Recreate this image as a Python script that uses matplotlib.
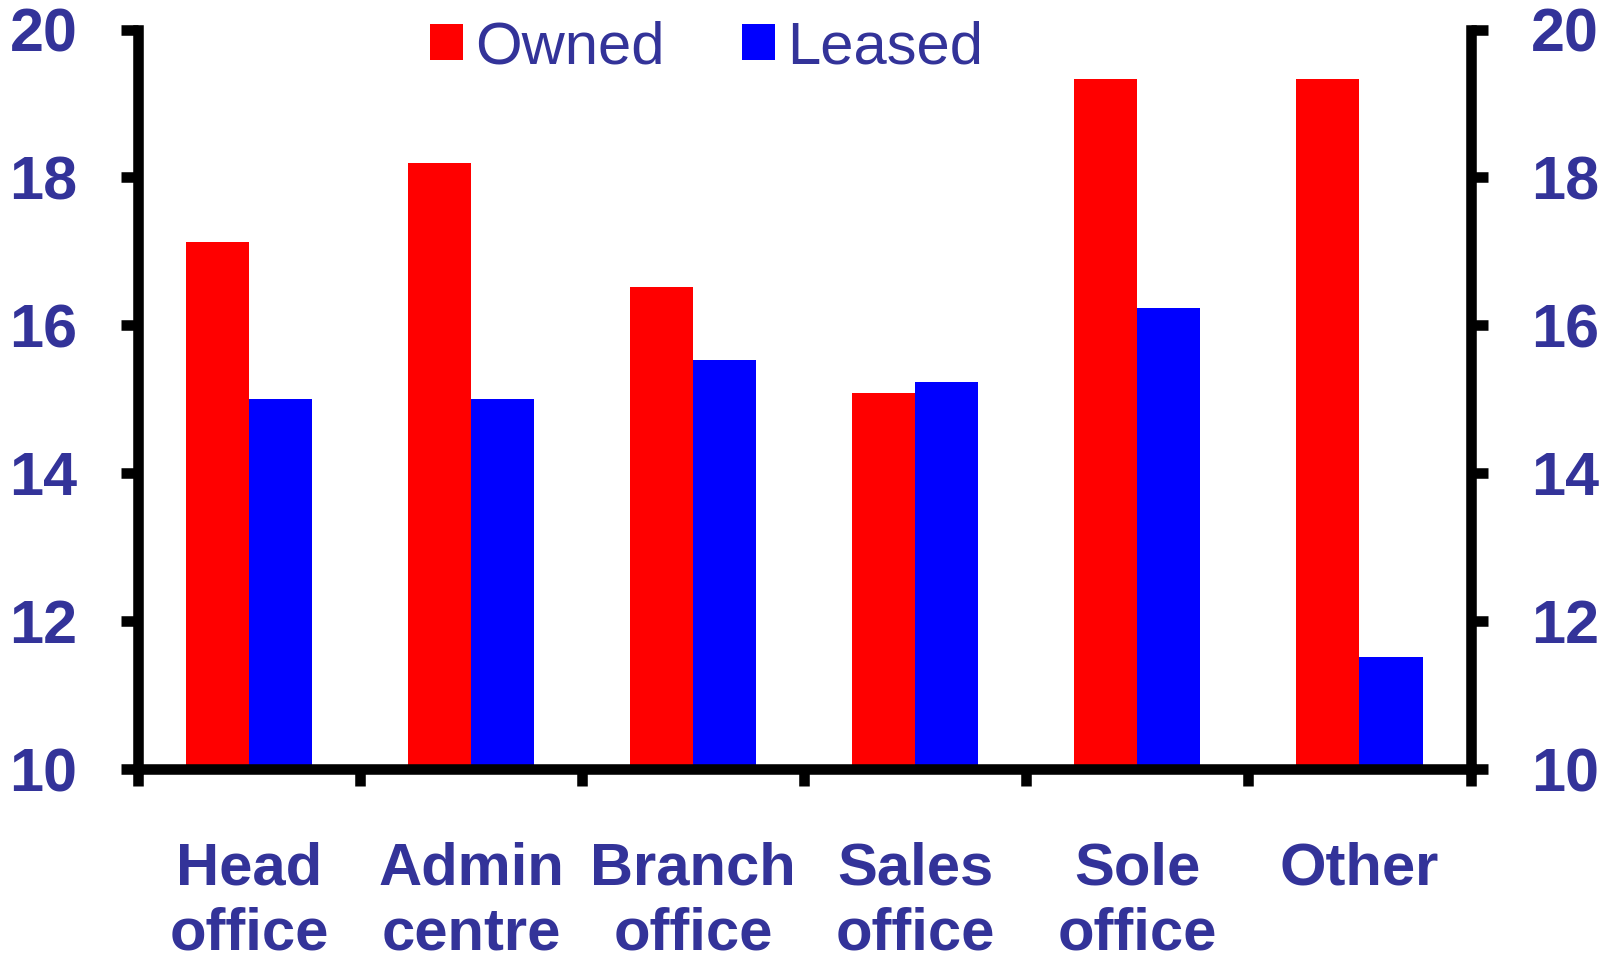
import matplotlib
matplotlib.use("Agg")
import matplotlib.pyplot as plt
from matplotlib.patches import Patch
import numpy as np

categories = ["Head\noffice", "Admin\ncentre", "Branch\noffice", "Sales\noffice", "Sole\noffice", "Other"]
owned = [17.13, 18.19, 16.52, 15.08, 19.33, 19.33]
leased = [15.01, 15.01, 15.53, 15.23, 16.23, 11.52]
y_ticks = [10, 12, 14, 16, 18, 20]
series_names = ["Owned", "Leased"]

TEXT = "#333399"
RED = "#FF0000"
BLUE = "#0000FF"

plt.rcParams['font.family'] = ['Liberation Sans', 'DejaVu Sans']

W, H = 1604, 959
fig = plt.figure(figsize=(W / 100, H / 100), dpi=100)
ax = fig.add_axes([138 / W, 1 - 769 / H, (1470.5 - 138) / W, (769 - 29.5) / H])

n = len(categories)
centers = np.arange(n) + 0.5
bw = 0.284
ax.bar(centers - bw / 2, np.array(owned) - 10, bw, bottom=10, color=RED, label=series_names[0], zorder=1)
ax.bar(centers + bw / 2, np.array(leased) - 10, bw, bottom=10, color=BLUE, label=series_names[1], zorder=1)

ax.set_xlim(0, n)
ax.set_ylim(10, 20)

lw = 7.6
for s in ["left", "right", "bottom"]:
    ax.spines[s].set_linewidth(lw)
    ax.spines[s].set_color("black")
ax.spines["top"].set_visible(False)

ax.set_yticks(y_ticks)
ax.set_yticklabels([str(t) for t in y_ticks])
ax.tick_params(axis='y', which='major', left=True, right=True, labelleft=True, labelright=True,
               direction='out', length=12.5, width=lw, color='black', pad=31,
               labelsize=44, labelcolor=TEXT)
for lab in ax.get_yticklabels():
    lab.set_fontweight('bold')

ax.set_xticks(np.arange(n + 1))
ax.set_xticklabels([""] * (n + 1))
ax.set_xticks(centers, minor=True)
ax.set_xticklabels(categories, minor=True, fontsize=43, fontweight='bold', color=TEXT,
                   linespacing=1.25, va='top')
ax.tick_params(axis='x', which='major', direction='out', length=12.5, width=lw, color='black')
ax.tick_params(axis='x', which='minor', length=0, pad=52)

handles = [Patch(facecolor=RED, edgecolor='none'), Patch(facecolor=BLUE, edgecolor='none')]
leg = fig.legend(handles, series_names, loc='center left', bbox_to_anchor=(430 / W, 1 - 48 / H),
                 bbox_transform=fig.transFigure, ncol=2, frameon=False, fontsize=43,
                 handlelength=0.55, handleheight=0.55, handletextpad=0.2, columnspacing=1.3,
                 borderpad=0, borderaxespad=0)
for t in leg.get_texts():
    t.set_color(TEXT)

fig.savefig("out.png", dpi=100)
